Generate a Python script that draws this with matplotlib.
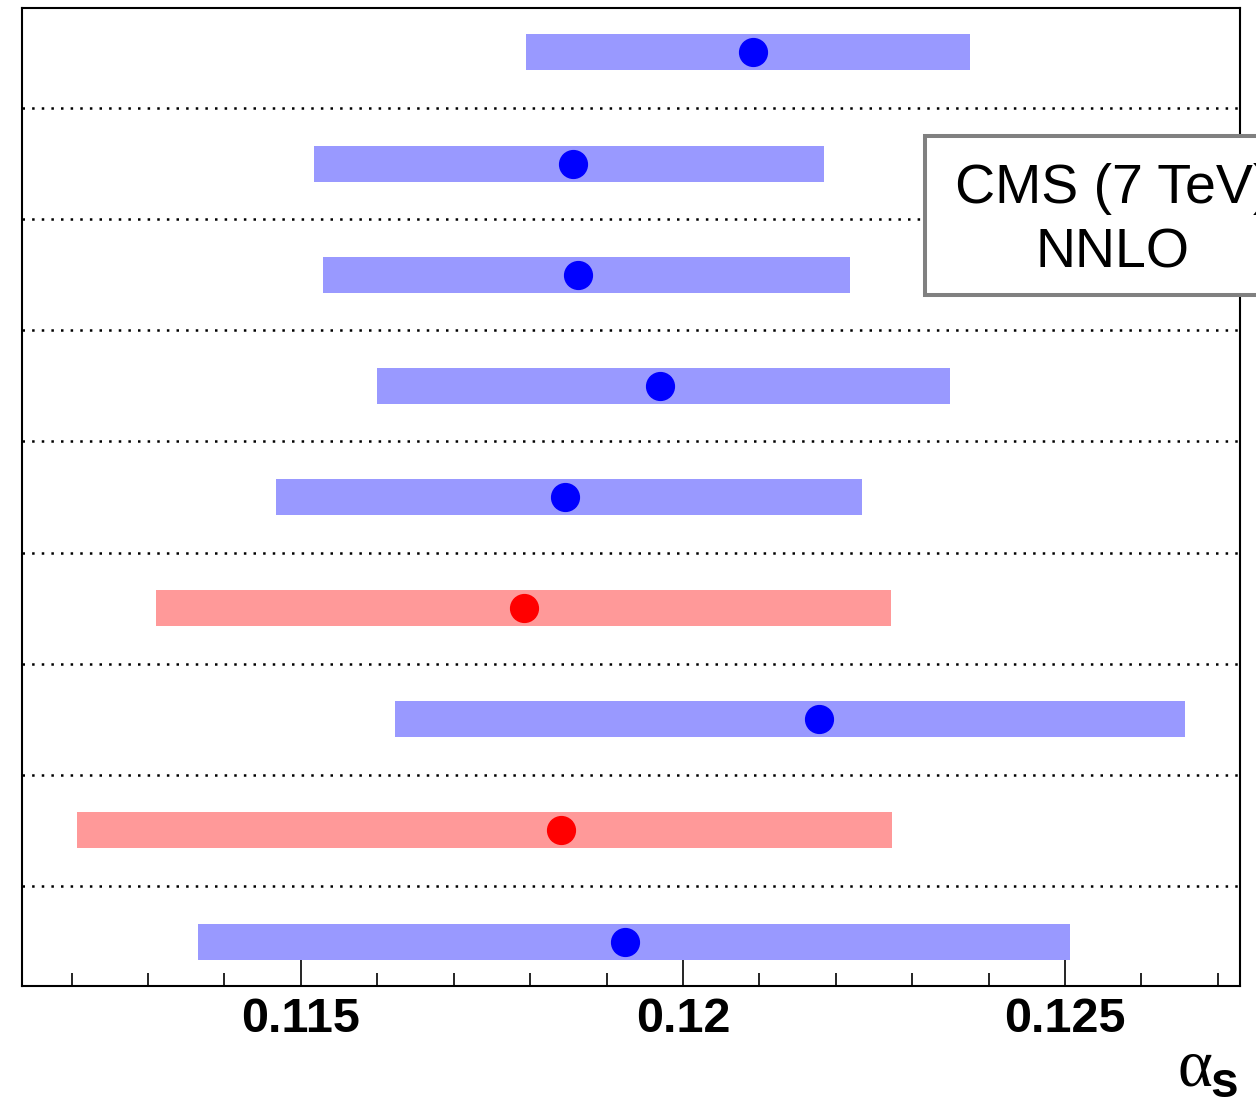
import numpy as np
import matplotlib.pyplot as plt
from matplotlib.patches import Rectangle
from matplotlib.ticker import MultipleLocator

# alpha_s determinations: central value and lower/upper edge of the uncertainty band
alpha_s = [0.12092, 0.11856, 0.11862, 0.11970, 0.11846, 0.11792, 0.12178, 0.11840, 0.11924]
band_lo = [0.11795, 0.11517, 0.11529, 0.11599, 0.11467, 0.11311, 0.11623, 0.11207, 0.11365]
band_hi = [0.12375, 0.12184, 0.12218, 0.12350, 0.12234, 0.12272, 0.12657, 0.12274, 0.12507]
is_red = [False, False, False, False, False, True, False, True, False]

xlo, xhi = 0.11135, 0.12729

fig = plt.figure(figsize=(12.56, 11.03), dpi=100)
ax = fig.add_axes([0.01752, 0.10607, 0.96974, 0.88668])

rows = np.arange(len(alpha_s))
band_col = ['#ff9999' if r else '#9999ff' for r in is_red]
dot_col = ['#ff0000' if r else '#0000ff' for r in is_red]

lo = np.array(band_lo)
hi = np.array(band_hi)
ax.barh(rows, hi - lo, left=lo, height=0.324, color=band_col, zorder=2)
for y, x, c in zip(rows, alpha_s, dot_col):
    ax.plot(x, y, 'o', ms=20, color=c, mec=c, zorder=3)

# dotted separators between rows
for y in rows[:-1] + 0.5:
    ax.axhline(y, color='black', lw=1.8, ls=(0, (1, 2.85)), zorder=1)

ax.set_xlim(xlo, xhi)
ax.set_ylim(len(alpha_s) - 0.6, -0.4)
ax.set_yticks([])
ax.xaxis.set_major_locator(MultipleLocator(0.005))
ax.xaxis.set_minor_locator(MultipleLocator(0.001))
ax.set_xticks([0.115, 0.12, 0.125])
ax.set_xticklabels(['0.115', '0.12', '0.125'], fontfamily='Liberation Sans',
                   fontweight='bold', fontsize=35)
ax.tick_params(axis='x', which='major', direction='in', length=19, width=1.2, pad=8)
ax.tick_params(axis='x', which='minor', direction='in', length=9.5, width=1.2)
for s in ax.spines.values():
    s.set_linewidth(1.5)

# axis title
fig.text(1212 / 1256, 1 - 1086 / 1103, 'α', fontfamily='Liberation Serif',
         fontsize=48, ha='right', va='baseline')
fig.text(1238 / 1256, 1 - 1097 / 1103, 's', fontfamily='Liberation Sans',
         fontweight='bold', fontsize=36, ha='right', va='baseline')

# label box
box = Rectangle((925 / 1256, 1 - 295 / 1103), 376 / 1256, 159 / 1103,
                transform=fig.transFigure, facecolor='white', edgecolor='#808080',
                lw=2.9, zorder=5)
fig.patches.append(box)
fig.text(1113 / 1256, 1 - 203 / 1103, 'CMS (7 TeV)', fontfamily='Liberation Sans',
         fontsize=40, ha='center', va='baseline', zorder=6)
fig.text(1113 / 1256, 1 - 268 / 1103, 'NNLO', fontfamily='Liberation Sans',
         fontsize=40, ha='center', va='baseline', zorder=6)

fig.savefig('out.png', dpi=100)
